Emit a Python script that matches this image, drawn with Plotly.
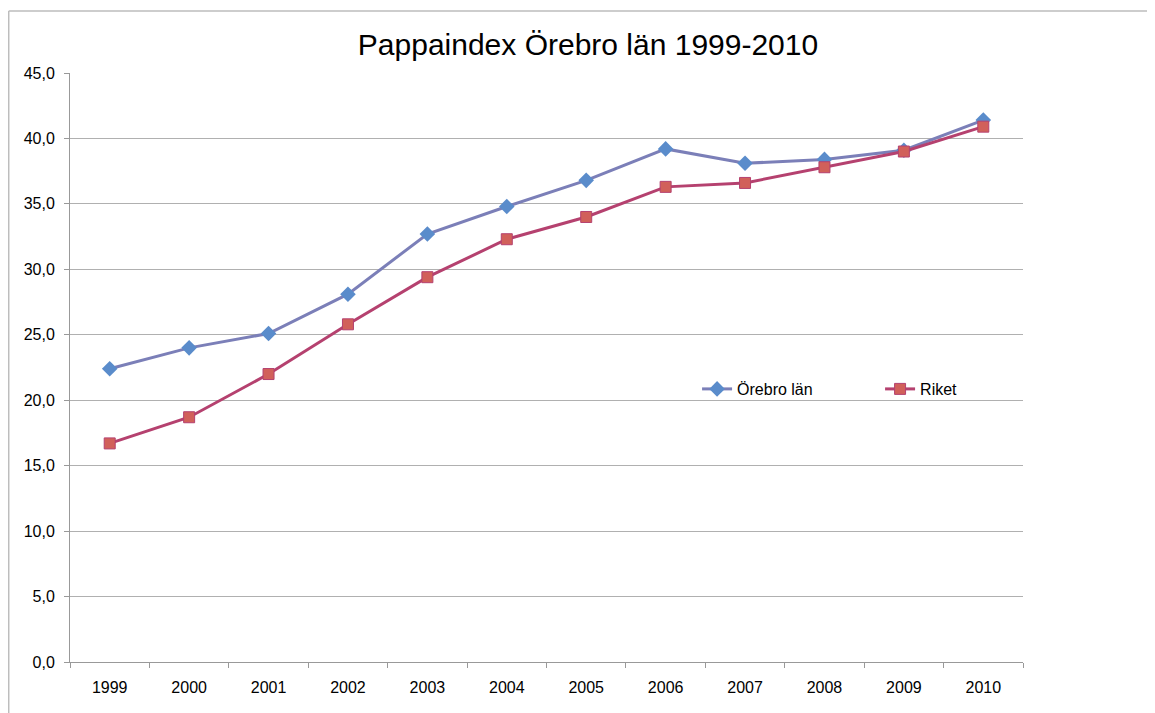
import plotly.graph_objects as go

years = ["1999", "2000", "2001", "2002", "2003", "2004", "2005",
         "2006", "2007", "2008", "2009", "2010"]
orebro = [22.4, 24.0, 25.1, 28.1, 32.7, 34.8, 36.8, 39.2, 38.1, 38.4, 39.1, 41.4]
riket = [16.7, 18.7, 22.0, 25.8, 29.4, 32.3, 34.0, 36.3, 36.6, 37.8, 39.0, 40.9]
y_ticks = [0, 5, 10, 15, 20, 25, 30, 35, 40, 45]

FONT = "Liberation Sans, Helvetica, Arial, sans-serif"

fig = go.Figure()

fig.add_trace(go.Scatter(
    x=years, y=orebro, name="Örebro län", mode="lines+markers",
    line=dict(color="#7b7fb8", width=3),
    marker=dict(symbol="diamond", size=12, color="#5a8ccb",
                line=dict(color="#5a8ccb", width=0)),
))
fig.add_trace(go.Scatter(
    x=years, y=riket, name="Riket", mode="lines+markers",
    line=dict(color="#b5416f", width=3),
    marker=dict(symbol="square", size=11, color="#d1605a",
                line=dict(color="#b5416f", width=1)),
))

# white box behind the legend hides part of the gridline at 20
fig.add_shape(type="rect", xref="paper", yref="paper",
              x0=0.5834, x1=1.0, y0=0.42, y1=0.51,
              fillcolor="white", line=dict(width=0), layer="between")

# outer chart frame (top and left edges only are visible)
frame = dict(color="#bdbdbd", width=1.5)
fig.add_shape(type="line", xref="paper", yref="paper",
              x0=-0.0643, x1=1.2, y0=1.1053, y1=1.1053, line=frame, layer="below")
fig.add_shape(type="line", xref="paper", yref="paper",
              x0=-0.0643, x1=-0.0643, y0=-0.2, y1=1.1053, line=frame, layer="below")

fig.update_xaxes(
    type="category", range=[-0.5, len(years) - 0.5], tickson="boundaries",
    ticks="outside", ticklen=5, tickcolor="#999999",
    showline=True, linecolor="#999999", linewidth=1, ticklabelstandoff=11,
    showgrid=False, tickfont=dict(family=FONT, size=16, color="#000000"),
)
fig.update_yaxes(
    range=[0, 45], tickvals=y_ticks, tickformat=".1f",
    ticks="outside", ticklen=5, tickcolor="#999999",
    showline=True, linecolor="#999999", linewidth=1, ticklabelstandoff=6,
    showgrid=True, gridcolor="#b0b0b0", gridwidth=1, zeroline=False,
    tickfont=dict(family=FONT, size=16, color="#000000"),
)

fig.update_layout(
    width=1147, height=705,
    margin=dict(l=62, r=132, t=65, b=51, autoexpand=False),
    paper_bgcolor="white", plot_bgcolor="white",
    separators=", ",
    title=dict(text="Pappaindex Örebro län 1999-2010", x=580 / 1147, xref="container",
               y=1 - 36 / 705, yanchor="middle",
               font=dict(family=FONT, size=30, color="#000000")),
    legend=dict(orientation="h", x=0.658, y=0.4635, xanchor="left", yanchor="middle",
                bgcolor="rgba(0,0,0,0)", entrywidth=138, entrywidthmode="pixels",
                font=dict(family=FONT, size=16, color="#000000"),
                itemwidth=30),
    showlegend=True,
)

fig.write_html("out.html", post_script="document.documentElement.style.overflow='hidden';")
